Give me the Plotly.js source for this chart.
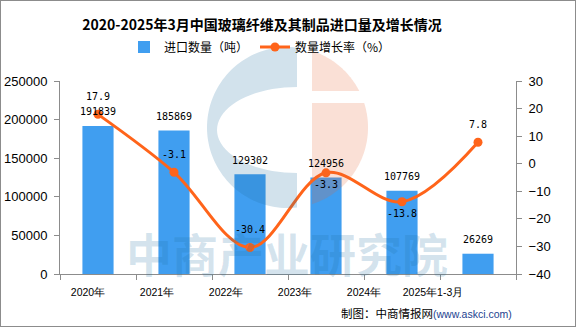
<!DOCTYPE html>
<html>
<head>
<meta charset="utf-8">
<script src="https://cdn.plot.ly/plotly-3.0.1.min.js"></script>
<style>
  html, body { margin: 0; padding: 0; background: #fff; }
  #wrap { position: relative; width: 576px; height: 327px; }
  #chart { width: 576px; height: 327px; }
  #frame { position: absolute; left: 0; top: 0; width: 576px; height: 327px; box-sizing: border-box; border: 1px solid #8c8c8c; pointer-events: none; }
</style>
</head>
<body>
<div id="wrap"><div id="chart"></div><div id="frame"></div></div>
<script>
// ---- data ----
const categories = ['2020年', '2021年', '2022年', '2023年', '2024年', '2025年1-3月'];
const importVolume = [191839, 185869, 129302, 124956, 107769, 26269];
const growthRate = [17.9, -3.1, -30.4, -3.3, -13.8, 7.8];
const volumeName = '进口数量（吨）';
const rateName = '数量增长率（%）';
const chartTitle = '2020-2025年3月中国玻璃纤维及其制品进口量及增长情况';
const sourceText = '制图：中商情报网';
const sourceUrl = '(www.askci.com)';
const watermarkText = '中商产业研究院';

// ---- style ----
const W = 576, H = 327;
const M = {l: 60, r: 60, t: 81, b: 53};
const PW = W - M.l - M.r, PH = H - M.t - M.b;
const barColor = '#409EF0';
const lineColor = '#FF641A';
const axisColor = '#8c8c8c';
const labelSide = ['above', 'above', 'above', 'below', 'below', 'above'];

// pixel -> paper helpers (decoration only)
const px = x => (x - M.l) / PW;
const py = y => (M.t + PH - y) / PH;

function arcPts(cx, cy, r, a0, a1, n) {
  const pts = [];
  for (let i = 0; i <= n; i++) {
    const a = a0 + (a1 - a0) * i / n;
    pts.push([cx + r * Math.cos(a), cy + r * Math.sin(a)]);
  }
  return pts;
}
function toPath(pts) {
  return 'M' + pts.map(p => px(p[0]).toFixed(5) + ',' + py(p[1]).toFixed(5)).join(' L') + ' Z';
}

// watermark logo geometry (pixels)
const cx = 287.5, cy = 127.5, R = 80.5;
const xb = 297, xp = 312;
let blue = [];
{
  const dyb = Math.sqrt(R * R - (xb - cx) * (xb - cx));
  const tTop = Math.atan2(-dyb, xb - cx);
  const tBot = Math.atan2(dyb, xb - cx) - 2 * Math.PI;
  blue = blue.concat(arcPts(cx, cy, R, tTop, tBot, 80));
  for (let i = 0; i <= 40; i++) {
    const psi = Math.PI / 2 + Math.PI * i / 40;
    blue.push([xb + 80 * Math.cos(psi), 130 + 43 * Math.sin(psi)]);
  }
}
let peachUp = [], peachLow = [];
{
  const dyp = Math.sqrt(R * R - (xp - cx) * (xp - cx));
  const a0 = Math.atan2(-dyp, xp - cx);
  const a1 = Math.atan2(91 - cy, Math.sqrt(R * R - (91 - cy) * (91 - cy)));
  peachUp = arcPts(cx, cy, R, a0, a1, 40);
  peachUp.push([xp, 91]);
  const b0 = Math.atan2(103 - cy, Math.sqrt(R * R - (103 - cy) * (103 - cy)));
  const b1 = Math.atan2(dyp, xp - cx);
  peachLow = [[xp, 103]].concat(arcPts(cx, cy, R, b0, b1, 60));
}

const traces = [
  {
    type: 'bar', name: volumeName, x: categories, y: importVolume,
    marker: {color: barColor}, hoverinfo: 'x+y'
  },
  {
    type: 'scatter', mode: 'lines+markers', name: rateName, x: categories, y: growthRate,
    yaxis: 'y2', line: {color: lineColor, width: 3, shape: 'spline', smoothing: 1},
    marker: {color: lineColor, size: 9}, cliponaxis: false
  },
  {
    type: 'scatter', mode: 'markers', x: categories, y: categories.map(() => null),
    xaxis: 'x2', yaxis: 'y', showlegend: false, hoverinfo: 'skip'
  }
];

const annotations = [];
categories.forEach((c, i) => {
  annotations.push({
    x: c, y: importVolume[i], xref: 'x', yref: 'y', text: String(importVolume[i]),
    showarrow: false, yshift: 14, font: {family: 'DejaVu Sans Mono', size: 10, color: '#000'}
  });
  annotations.push({
    x: c, y: growthRate[i], xref: 'x', yref: 'y2', text: growthRate[i].toFixed(1),
    showarrow: false, yshift: labelSide[i] === 'above' ? 18 : -12,
    font: {family: 'DejaVu Sans Mono', size: 10, color: '#000'}
  });
});
annotations.push({
  text: watermarkText, xref: 'paper', yref: 'paper', x: px(287), y: py(252),
  xanchor: 'center', yanchor: 'middle', showarrow: false,
  font: {family: 'Noto Sans CJK SC', size: 46, weight: 'bold', color: 'rgba(30,110,160,0.19)'}
});
annotations.push({
  text: sourceText + '<span style="color:#1d3f8f;font-size:10.5px;font-family:Liberation Sans">' + sourceUrl + '</span>',
  xref: 'paper', yref: 'paper', x: px(514), y: py(313), xanchor: 'right', yanchor: 'middle',
  showarrow: false, font: {family: 'Noto Sans CJK SC', size: 11.5, color: '#000'}
});

const shapes = [
  {type: 'path', xref: 'paper', yref: 'paper', path: toPath(blue), fillcolor: 'rgba(30,110,160,0.2)', line: {width: 0}, layer: 'above'},
  {type: 'path', xref: 'paper', yref: 'paper', path: toPath(peachUp), fillcolor: 'rgba(230,100,50,0.2)', line: {width: 0}, layer: 'above'},
  {type: 'path', xref: 'paper', yref: 'paper', path: toPath(peachLow), fillcolor: 'rgba(230,100,50,0.2)', line: {width: 0}, layer: 'above'}
];

const tickFont = {family: 'Liberation Sans', size: 13, color: '#000'};
const layout = {
  width: W, height: H,
  margin: M,
  paper_bgcolor: '#fff', plot_bgcolor: '#fff',
  title: {
    text: chartTitle, xref: 'container', yref: 'container', x: 262 / W, y: 1 - 25 / H,
    xanchor: 'center', yanchor: 'middle',
    font: {family: 'Noto Sans CJK SC', size: 14, weight: 'bold', color: '#000'}
  },
  showlegend: true,
  legend: {
    orientation: 'h', x: px(124), xanchor: 'left', y: py(47), yanchor: 'middle',
    font: {family: 'Noto Sans CJK SC', size: 12, color: '#000'}, bgcolor: 'rgba(0,0,0,0)',
    entrywidth: 86, entrywidthmode: 'pixels'
  },
  bargap: 0.59,
  xaxis: {
    type: 'category', range: [-0.5, 5.5], showticklabels: false,
    ticks: 'outside', tickson: 'boundaries', ticklen: 5, tickcolor: axisColor,
    showline: true, linecolor: axisColor, linewidth: 1, showgrid: false, zeroline: false, fixedrange: true
  },
  xaxis2: {
    type: 'category', overlaying: 'x', anchor: 'y', side: 'bottom',
    categoryorder: 'array', categoryarray: categories,
    range: [-28 / 69, -28 / 69 + PW / 69],
    showline: false, showgrid: false, zeroline: false, ticks: '', ticklabelstandoff: 10,
    tickfont: {family: 'Liberation Sans', size: 10.5, color: '#000'}
  },
  yaxis: {
    range: [0, 250000], dtick: 50000, tickformat: 'd',
    ticks: 'outside', ticklen: 5, tickcolor: axisColor, ticklabelstandoff: 4,
    showline: true, linecolor: axisColor, showgrid: false, zeroline: false, tickfont: tickFont
  },
  yaxis2: {
    overlaying: 'y', side: 'right', range: [-40, 30], dtick: 10,
    ticks: 'outside', ticklen: 5, tickcolor: axisColor, ticklabelstandoff: 4,
    showline: true, linecolor: axisColor, showgrid: false, zeroline: false, tickfont: tickFont
  },
  annotations: annotations,
  shapes: shapes
};

Plotly.newPlot('chart', traces, layout, {displayModeBar: false, staticPlot: true});
</script>
</body>
</html>
